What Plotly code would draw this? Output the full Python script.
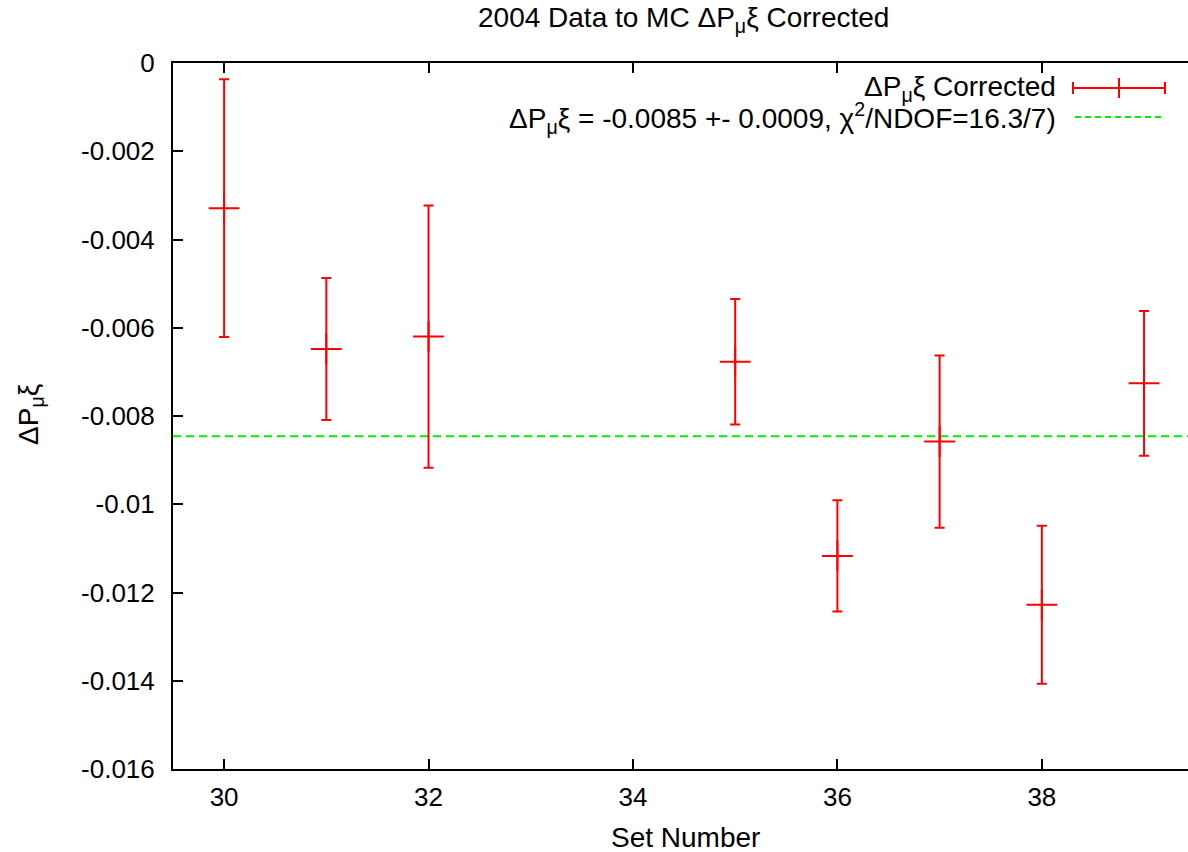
import plotly.graph_objects as go

# data
set_number = [30, 31, 32, 35, 36, 37, 38, 39]
dpxi = [-0.00329, -0.00648, -0.00620, -0.00677, -0.01117, -0.00858, -0.01228, -0.00726]
dpxi_err = [0.00292, 0.00161, 0.00297, 0.00142, 0.00126, 0.00195, 0.00179, 0.00164]
fit_x = [29.5, 39.5]
fit_value = -0.00846

y_ticks = [0, -0.002, -0.004, -0.006, -0.008, -0.01, -0.012, -0.014, -0.016]
y_ticktext = ["0", "-0.002", "-0.004", "-0.006", "-0.008", "-0.01", "-0.012", "-0.014", "-0.016"]
x_ticks = [30, 32, 34, 36, 38]

FONT = "Liberation Sans, Arial, Helvetica, sans-serif"
RED = "#ff0000"
GREEN = "#00ee00"

fig = go.Figure()
fig.add_trace(go.Scatter(x=fit_x, y=[fit_value] * len(fit_x), mode="lines",
                         line=dict(color=GREEN, width=2, dash="8px,5px"), showlegend=False))
fig.add_trace(go.Scatter(x=set_number, y=dpxi, mode="markers",
                         marker=dict(symbol="cross-thin", size=22, line=dict(color=RED, width=2)),
                         error_y=dict(type="data", array=dpxi_err, color=RED, thickness=2, width=5),
                         showlegend=False))

# legend drawn gnuplot style: text on the left, sample on the right
def px(p):
    return (p - 173) / 1015

def py(p):
    return (769 - p) / 706

shapes = [
    dict(type="line", xref="paper", yref="paper", x0=px(1073), x1=px(1165), y0=py(88), y1=py(88),
         line=dict(color=RED, width=2)),
    dict(type="line", xref="paper", yref="paper", x0=px(1073), x1=px(1073), y0=py(82), y1=py(94),
         line=dict(color=RED, width=2)),
    dict(type="line", xref="paper", yref="paper", x0=px(1165), x1=px(1165), y0=py(82), y1=py(94),
         line=dict(color=RED, width=2)),
    dict(type="line", xref="paper", yref="paper", x0=px(1119), x1=px(1119), y0=py(78), y1=py(98),
         line=dict(color=RED, width=2)),
    dict(type="line", xref="paper", yref="paper", x0=px(1075), x1=px(1165), y0=py(117), y1=py(117),
         line=dict(color=GREEN, width=2, dash="6px,4px")),
]

annotations = [
    dict(text="ΔP<sub>μ</sub>ξ Corrected", xref="paper", yref="paper", x=px(1058), y=py(88),
         xanchor="right", yanchor="middle", showarrow=False, font=dict(size=28)),
    dict(text="ΔP<sub>μ</sub>ξ = -0.0085 +- 0.0009, χ<sup>2</sup>/NDOF=16.3/7)", xref="paper", yref="paper",
         x=px(1058), y=py(118), xanchor="right", yanchor="middle", showarrow=False, font=dict(size=28)),
    dict(text="ΔP<sub>μ</sub>ξ", xref="paper", yref="paper", x=px(30), y=py(415), textangle=-90,
         xanchor="center", yanchor="middle", showarrow=False, font=dict(size=28)),
    dict(text="Set Number", xref="paper", yref="paper", x=px(685), y=py(837),
         xanchor="center", yanchor="middle", showarrow=False, font=dict(size=28)),
    dict(text="2004 Data to MC ΔP<sub>μ</sub>ξ Corrected", xref="paper", yref="paper", x=px(683), y=py(19),
         xanchor="center", yanchor="middle", showarrow=False, font=dict(size=28)),
]

fig.update_layout(
    width=1188, height=852,
    margin=dict(l=173, r=0, t=63, b=83),
    paper_bgcolor="white", plot_bgcolor="white",
    font=dict(family=FONT, size=26, color="black"),
    showlegend=False,
    shapes=shapes,
    annotations=annotations,
    xaxis=dict(range=[29.5, 39.43], tickvals=x_ticks, ticks="inside", ticklen=10, tickwidth=2,
               tickcolor="black", showline=True, linecolor="black", linewidth=2, mirror="ticks",
               showgrid=False, zeroline=False, ticklabelstandoff=4),
    yaxis=dict(range=[-0.016, 0], tickvals=y_ticks, ticktext=y_ticktext, ticks="inside", ticklen=10,
               tickwidth=2, tickcolor="black", showline=True, linecolor="black", linewidth=2,
               showgrid=False, zeroline=False, ticklabelstandoff=11),
    yaxis2=dict(range=[-0.016, 0], overlaying="y", side="right", tickvals=y_ticks, ticks="inside",
                ticklen=4, tickwidth=2, tickcolor="black", showticklabels=False, showline=False,
                showgrid=False, zeroline=False),
)

fig.write_html("out.html", config={"displayModeBar": False},
               post_script="document.body.style.margin='0';")
